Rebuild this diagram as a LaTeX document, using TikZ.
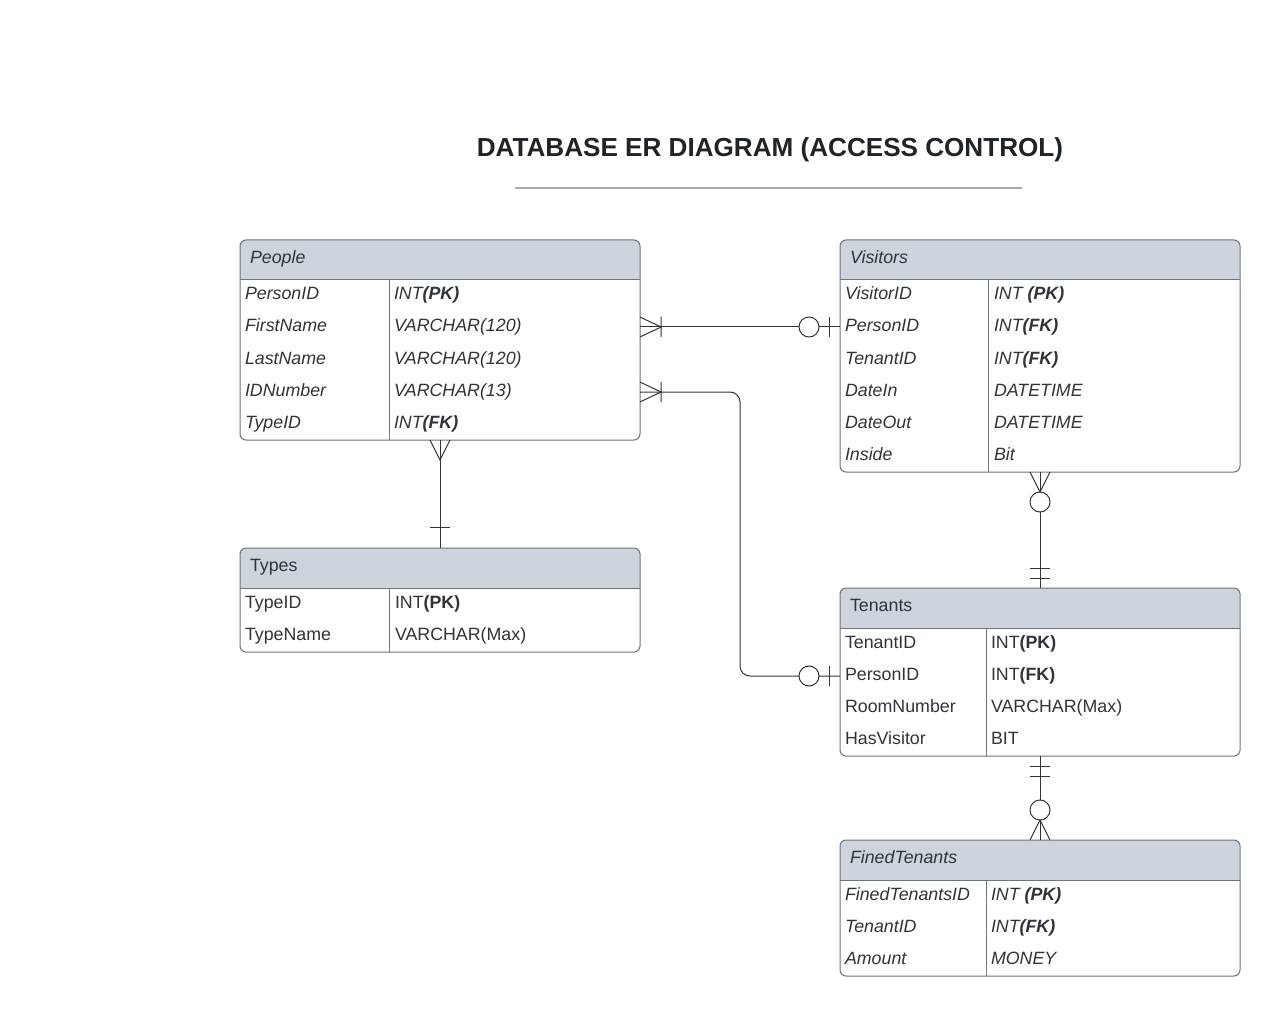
\documentclass[tikz,border=0pt]{standalone}
\usepackage{fontspec}
\setmainfont{Liberation Sans}
\definecolor{hdr}{HTML}{CED4DB}
\definecolor{edge}{HTML}{6E7378}
\definecolor{txt}{HTML}{2F343A}
\definecolor{ttl}{HTML}{1F2429}
\definecolor{rulec}{HTML}{A7AAAF}
\definecolor{lnk}{HTML}{333333}
\tikzset{
  frame/.style={draw=edge, line width=1pt, rounded corners=6pt, rectangle, inner sep=0pt, outer sep=0pt},
  cell/.style={anchor=base west, inner sep=0pt, outer sep=0pt, text=txt, font=\fontsize{17.8}{20}\selectfont},
  icell/.style={cell, font=\fontsize{17.8}{20}\selectfont\itshape},
  sepline/.style={draw=edge, line width=1pt},
  link/.style={draw=lnk, line width=1pt},
  crowone/.pic={\draw[link] (0,-10)--(21,0)--(0,10) (21,-10)--(21,10);},
  crowmany/.pic={\draw[link] (0,-10)--(20,0)--(0,10);},
  zeroone/.pic={\draw[link] (11,-10)--(11,10); \draw[link, fill=white] (31,0) circle[radius=10pt];},
  zeromany/.pic={\draw[link] (0,-10)--(20,0)--(0,10); \draw[link, fill=white] (30,0) circle[radius=10pt];},
  onebar/.pic={\draw[link] (21,-10)--(21,10);},
  onlyone/.pic={\draw[link] (10,-10)--(10,10) (20,-10)--(20,10);},
}
\begin{document}
\begin{tikzpicture}[x=1pt,y=-1pt]
\useasboundingbox (0,0) rectangle (1280,1016);
\fill[white] (0,0) rectangle (1280,1016);

% Title
\node[anchor=base, inner sep=0pt, text=ttl, font=\fontsize{26.1}{30}\selectfont\bfseries] (title) at (770,156.5) {DATABASE ER DIAGRAM (ACCESS CONTROL)};
\coordinate (ruleA) at (515,188);
\coordinate (ruleB) at (1022,188);
\draw[rulec, line width=1.6pt] (ruleA) -- (ruleB);

% ---------- People ----------
\begin{scope}\clip[rounded corners=6pt] (240,240) rectangle (640,440); \fill[hdr] (240,240) rectangle (640,280);\end{scope}
\draw[sepline] (240,280) -- (640,280) (389,280) -- (389,440);
\node[frame, minimum width=400pt, minimum height=200pt] (people) at (440,340) {};
\node[icell] (people-h) at (250,263.5) {People};
\node[icell] (people-n1) at (245,300) {PersonID};
\node[icell] (people-t1) at (394,300) {INT\textbf{(PK)}};
\node[icell] (people-n2) at (245,332) {FirstName};
\node[icell] (people-t2) at (394,332) {VARCHAR(120)};
\node[icell] (people-n3) at (245,364) {LastName};
\node[icell] (people-t3) at (394,364) {VARCHAR(120)};
\node[icell] (people-n4) at (245,396) {IDNumber};
\node[icell] (people-t4) at (394,396) {VARCHAR(13)};
\node[icell] (people-n5) at (245,428) {TypeID};
\node[icell] (people-t5) at (394,428) {INT\textbf{(FK)}};

% ---------- Types ----------
\begin{scope}\clip[rounded corners=6pt] (240,548) rectangle (640,652); \fill[hdr] (240,548) rectangle (640,588);\end{scope}
\draw[sepline] (240,588) -- (640,588) (389,588) -- (389,652);
\node[frame, minimum width=400pt, minimum height=104pt] (types) at (440,600) {};
\node[cell] (types-h) at (250,571.5) {Types};
\node[cell] (types-n1) at (245,608) {TypeID};
\node[cell] (types-t1) at (395,608) {INT\textbf{(PK)}};
\node[cell] (types-n2) at (245,640) {TypeName};
\node[cell] (types-t2) at (395,640) {VARCHAR(Max)};

% ---------- Visitors ----------
\begin{scope}\clip[rounded corners=6pt] (840,240) rectangle (1240,472); \fill[hdr] (840,240) rectangle (1240,280);\end{scope}
\draw[sepline] (840,280) -- (1240,280) (988,280) -- (988,472);
\node[frame, minimum width=400pt, minimum height=232pt] (visitors) at (1040,356) {};
\node[icell] (visitors-h) at (850,263.5) {Visitors};
\node[icell] (visitors-n1) at (845,300) {VisitorID};
\node[icell] (visitors-t1) at (994,300) {INT \textbf{(PK)}};
\node[icell] (visitors-n2) at (845,332) {PersonID};
\node[icell] (visitors-t2) at (994,332) {INT\textbf{(FK)}};
\node[icell] (visitors-n3) at (845,364) {TenantID};
\node[icell] (visitors-t3) at (994,364) {INT\textbf{(FK)}};
\node[icell] (visitors-n4) at (845,396) {DateIn};
\node[icell] (visitors-t4) at (994,396) {DATETIME};
\node[icell] (visitors-n5) at (845,428) {DateOut};
\node[icell] (visitors-t5) at (994,428) {DATETIME};
\node[icell] (visitors-n6) at (845,460) {Inside};
\node[icell] (visitors-t6) at (994,460) {Bit};

% ---------- Tenants ----------
\begin{scope}\clip[rounded corners=6pt] (840,588) rectangle (1240,756); \fill[hdr] (840,588) rectangle (1240,628);\end{scope}
\draw[sepline] (840,628) -- (1240,628) (986,628) -- (986,756);
\node[frame, minimum width=400pt, minimum height=168pt] (tenants) at (1040,672) {};
\node[cell] (tenants-h) at (850,611.5) {Tenants};
\node[cell] (tenants-n1) at (845,648) {TenantID};
\node[cell] (tenants-t1) at (991,648) {INT\textbf{(PK)}};
\node[cell] (tenants-n2) at (845,680) {PersonID};
\node[cell] (tenants-t2) at (991,680) {INT\textbf{(FK)}};
\node[cell] (tenants-n3) at (845,712) {RoomNumber};
\node[cell] (tenants-t3) at (991,712) {VARCHAR(Max)};
\node[cell] (tenants-n4) at (845,744) {HasVisitor};
\node[cell] (tenants-t4) at (991,744) {BIT};

% ---------- FinedTenants ----------
\begin{scope}\clip[rounded corners=6pt] (840,840) rectangle (1240,976); \fill[hdr] (840,840) rectangle (1240,880);\end{scope}
\draw[sepline] (840,880) -- (1240,880) (986,880) -- (986,976);
\node[frame, minimum width=400pt, minimum height=136pt] (fined) at (1040,908) {};
\node[icell] (fined-h) at (850,863.5) {FinedTenants};
\node[icell] (fined-n1) at (845,900) {FinedTenantsID};
\node[icell] (fined-t1) at (991,900) {INT \textbf{(PK)}};
\node[icell] (fined-n2) at (845,932) {TenantID};
\node[icell] (fined-t2) at (991,932) {INT\textbf{(FK)}};
\node[icell] (fined-n3) at (845,964) {Amount};
\node[icell] (fined-t3) at (991,964) {MONEY};

% ---------- Connectors ----------
% People -- Visitors
\coordinate (pvA) at (640,327);
\coordinate (pvB) at (840,327);
\draw[link] (pvA) -- (pvB);
\pic at (pvA) {crowone};
\pic[rotate=180] at (pvB) {zeroone};

% People -- Tenants
\coordinate (ptA) at (640,392);
\coordinate (ptB) at (840,676);
\draw[link, rounded corners=10pt] (ptA) -| ([xshift=-100pt]ptB) -- (ptB);
\pic at (ptA) {crowone};
\pic[rotate=180] at (ptB) {zeroone};

% People -- Types
\coordinate (tyA) at (440,440);
\coordinate (tyB) at (440,548);
\draw[link] (tyA) -- (tyB);
\pic[rotate=-90] at (tyA) {crowmany};
\pic[rotate=90] at (tyB) {onebar};

% Visitors -- Tenants
\coordinate (vtA) at (1040,472);
\coordinate (vtB) at (1040,588);
\draw[link] (vtA) -- (vtB);
\pic[rotate=-90] at (vtA) {zeromany};
\pic[rotate=90] at (vtB) {onlyone};

% Tenants -- FinedTenants
\coordinate (tfA) at (1040,756);
\coordinate (tfB) at (1040,840);
\draw[link] (tfA) -- (tfB);
\pic[rotate=-90] at (tfA) {onlyone};
\pic[rotate=90] at (tfB) {zeromany};
\end{tikzpicture}
\end{document}
